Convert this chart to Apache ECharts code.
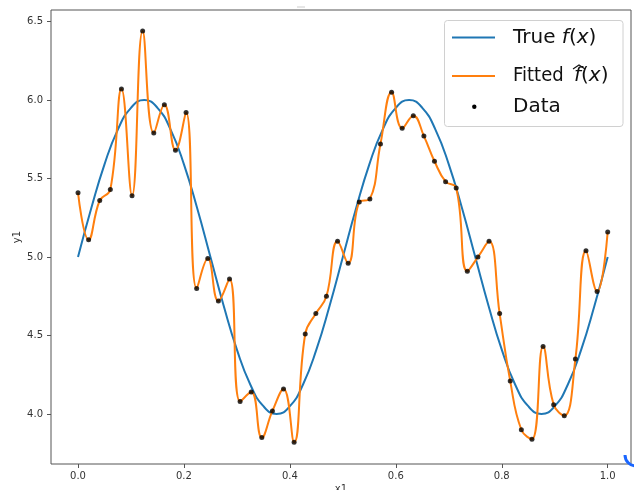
<!DOCTYPE html>
<html>
<head>
<meta charset="utf-8">
<script src="https://cdn.jsdelivr.net/npm/echarts@6/dist/echarts.min.js"></script>
<style>
  html, body { margin: 0; padding: 0; background: #fff; }
  #chart { width: 634px; height: 490px; }
</style>
</head>
<body>
<div id="chart"></div>
<script>
// true curve, every 0.025
const trueX = [0, 0.025, 0.05, 0.075, 0.1, 0.125, 0.15, 0.175, 0.2, 0.225, 0.25, 0.275, 0.3, 0.325, 0.35, 0.375, 0.4, 0.425, 0.45, 0.475,
  0.5, 0.525, 0.55, 0.575, 0.6, 0.625, 0.65, 0.675, 0.7, 0.725, 0.75, 0.775, 0.8, 0.825, 0.85, 0.875, 0.9, 0.925, 0.95, 0.975, 1.0]
const trueY = [5.00, 5.31, 5.59, 5.81, 5.95, 6.00, 5.95, 5.81, 5.59, 5.31, 5.00, 4.69, 4.41, 4.19, 4.05, 4.00, 4.05, 4.19, 4.41, 4.69,
  5.00, 5.31, 5.59, 5.81, 5.95, 6.00, 5.95, 5.81, 5.59, 5.31, 5.00, 4.69, 4.41, 4.19, 4.05, 4.00, 4.05, 4.19, 4.41, 4.69, 5.00]

// noisy samples (black dots), the orange fit passes through them
const dataX = [0, 0.020, 0.041, 0.061, 0.082, 0.102, 0.122, 0.143, 0.163, 0.184,
  0.204, 0.224, 0.245, 0.265, 0.286, 0.306, 0.327, 0.347, 0.367, 0.388,
  0.408, 0.429, 0.449, 0.469, 0.490, 0.510, 0.531, 0.551, 0.571, 0.592,
  0.612, 0.633, 0.653, 0.673, 0.694, 0.714, 0.735, 0.755, 0.776, 0.796,
  0.816, 0.837, 0.857, 0.878, 0.898, 0.918, 0.939, 0.959, 0.980, 1.000]
const dataY = [5.41, 5.11, 5.36, 5.43, 6.07, 5.39, 6.44, 5.79, 5.97, 5.68,
  5.92, 4.80, 4.99, 4.72, 4.86, 4.08, 4.14, 3.85, 4.02, 4.16,
  3.82, 4.51, 4.64, 4.75, 5.10, 4.96, 5.35, 5.37, 5.72, 6.05,
  5.82, 5.90, 5.77, 5.61, 5.48, 5.44, 4.91, 5.00, 5.10, 4.64,
  4.21, 3.90, 3.84, 4.43, 4.06, 3.99, 4.35, 5.04, 4.78, 5.16]

const xTicks = [0.0, 0.2, 0.4, 0.6, 0.8, 1.0]
const yTicks = [4.0, 4.5, 5.0, 5.5, 6.0, 6.5]

const font = 'DejaVu Sans'
const zip = (xs, ys) => xs.map((x, i) => [x, ys[i]])

const txt = { fontFamily: font, fontSize: 20, fill: '#111' }
const ital = { fontFamily: font, fontStyle: 'italic', fontSize: 20, fill: '#111' }

const chart = echarts.init(document.getElementById('chart'))

chart.setOption({
  animation: false,
  grid: {
    left: 51, right: 3, top: 10, bottom: 26,
    outerBoundsMode: 'none', containLabel: false,
    show: true, borderColor: '#555', borderWidth: 1
  },
  xAxis: {
    type: 'value',
    min: -0.051, max: 1.044,
    name: 'x1', nameLocation: 'middle', nameGap: 20, nameMoveOverlap: false,
    nameTextStyle: { fontFamily: font, fontSize: 10, color: '#333' },
    axisLine: { show: false, onZero: false },
    axisTick: { show: true, length: 4, customValues: xTicks, lineStyle: { color: '#555' } },
    axisLabel: {
      customValues: xTicks, margin: 7,
      fontFamily: font, fontSize: 10, color: '#333',
      formatter: v => v.toFixed(1)
    },
    splitLine: { show: false }
  },
  yAxis: {
    type: 'value',
    min: 3.682, max: 6.573,
    name: 'y1', nameLocation: 'middle', nameGap: 29, nameMoveOverlap: false,
    nameTextStyle: { fontFamily: font, fontSize: 10, color: '#333' },
    axisLine: { show: false, onZero: false },
    axisTick: { show: true, length: 4, customValues: yTicks, lineStyle: { color: '#555' } },
    axisLabel: {
      customValues: yTicks, margin: 8,
      fontFamily: font, fontSize: 10, color: '#333',
      formatter: v => v.toFixed(1)
    },
    splitLine: { show: false }
  },
  series: [
    {
      name: 'True f(x)',
      type: 'line',
      data: zip(trueX, trueY),
      smooth: true,
      showSymbol: false,
      lineStyle: { color: '#1f77b4', width: 2 },
      z: 2
    },
    {
      name: 'Fitted',
      type: 'line',
      data: zip(dataX, dataY),
      smooth: 0.45,
      showSymbol: false,
      lineStyle: { color: '#ff7f0e', width: 2 },
      z: 3
    },
    {
      name: 'Data',
      type: 'scatter',
      data: zip(dataX, dataY),
      symbolSize: 5,
      itemStyle: { color: '#000' },
      z: 4
    }
  ],
  // legend box drawn by hand so the line / dot keys match the original
  graphic: [
    {
      type: 'rect', z: 100,
      shape: { x: 444.5, y: 20.5, width: 178.5, height: 106, r: 3 },
      style: { fill: 'rgba(255,255,255,0.85)', stroke: '#d0d0d0', lineWidth: 1 }
    },
    { type: 'line', z: 101, shape: { x1: 452, y1: 37.5, x2: 495, y2: 37.5 }, style: { stroke: '#1f77b4', lineWidth: 2 } },
    { type: 'line', z: 101, shape: { x1: 452, y1: 76, x2: 495, y2: 76 }, style: { stroke: '#ff7f0e', lineWidth: 2 } },
    { type: 'circle', z: 101, shape: { cx: 474.3, cy: 106.7, r: 2.2 }, style: { fill: '#000' } },
    {
      type: 'text', z: 101, x: 513, y: 38,
      style: { text: '{n|True }{i|f}{n|(}{i|x}{n|)}', verticalAlign: 'middle', rich: { n: txt, i: ital } }
    },
    {
      type: 'text', z: 101, x: 513, y: 76, scaleX: 0.9,
      style: Object.assign({ text: 'Fitted', verticalAlign: 'middle' }, txt)
    },
    {
      type: 'text', z: 101, x: 574, y: 76,
      style: { text: '{i|f}{n|(}{i|x}{n|)}', verticalAlign: 'middle', rich: { n: txt, i: ital } }
    },
    {
      type: 'polyline', z: 101,
      shape: { points: [[573, 69], [579, 65], [585, 69]] },
      style: { stroke: '#111', lineWidth: 1.1, fill: null }
    },
    {
      type: 'text', z: 101, x: 513, y: 107,
      style: Object.assign({ text: 'Data', verticalAlign: 'middle' }, txt)
    },
    // stray marks from the screenshot
    { type: 'line', z: 50, shape: { x1: 297, y1: 7, x2: 305, y2: 7 }, style: { stroke: '#ccc', lineWidth: 1 } },
    {
      type: 'arc', z: 50,
      shape: { cx: 636, cy: 455, r: 11, startAngle: Math.PI / 2, endAngle: Math.PI, clockwise: true },
      style: { stroke: '#1a66ff', lineWidth: 3, fill: null }
    }
  ]
})
</script>
</body>
</html>
